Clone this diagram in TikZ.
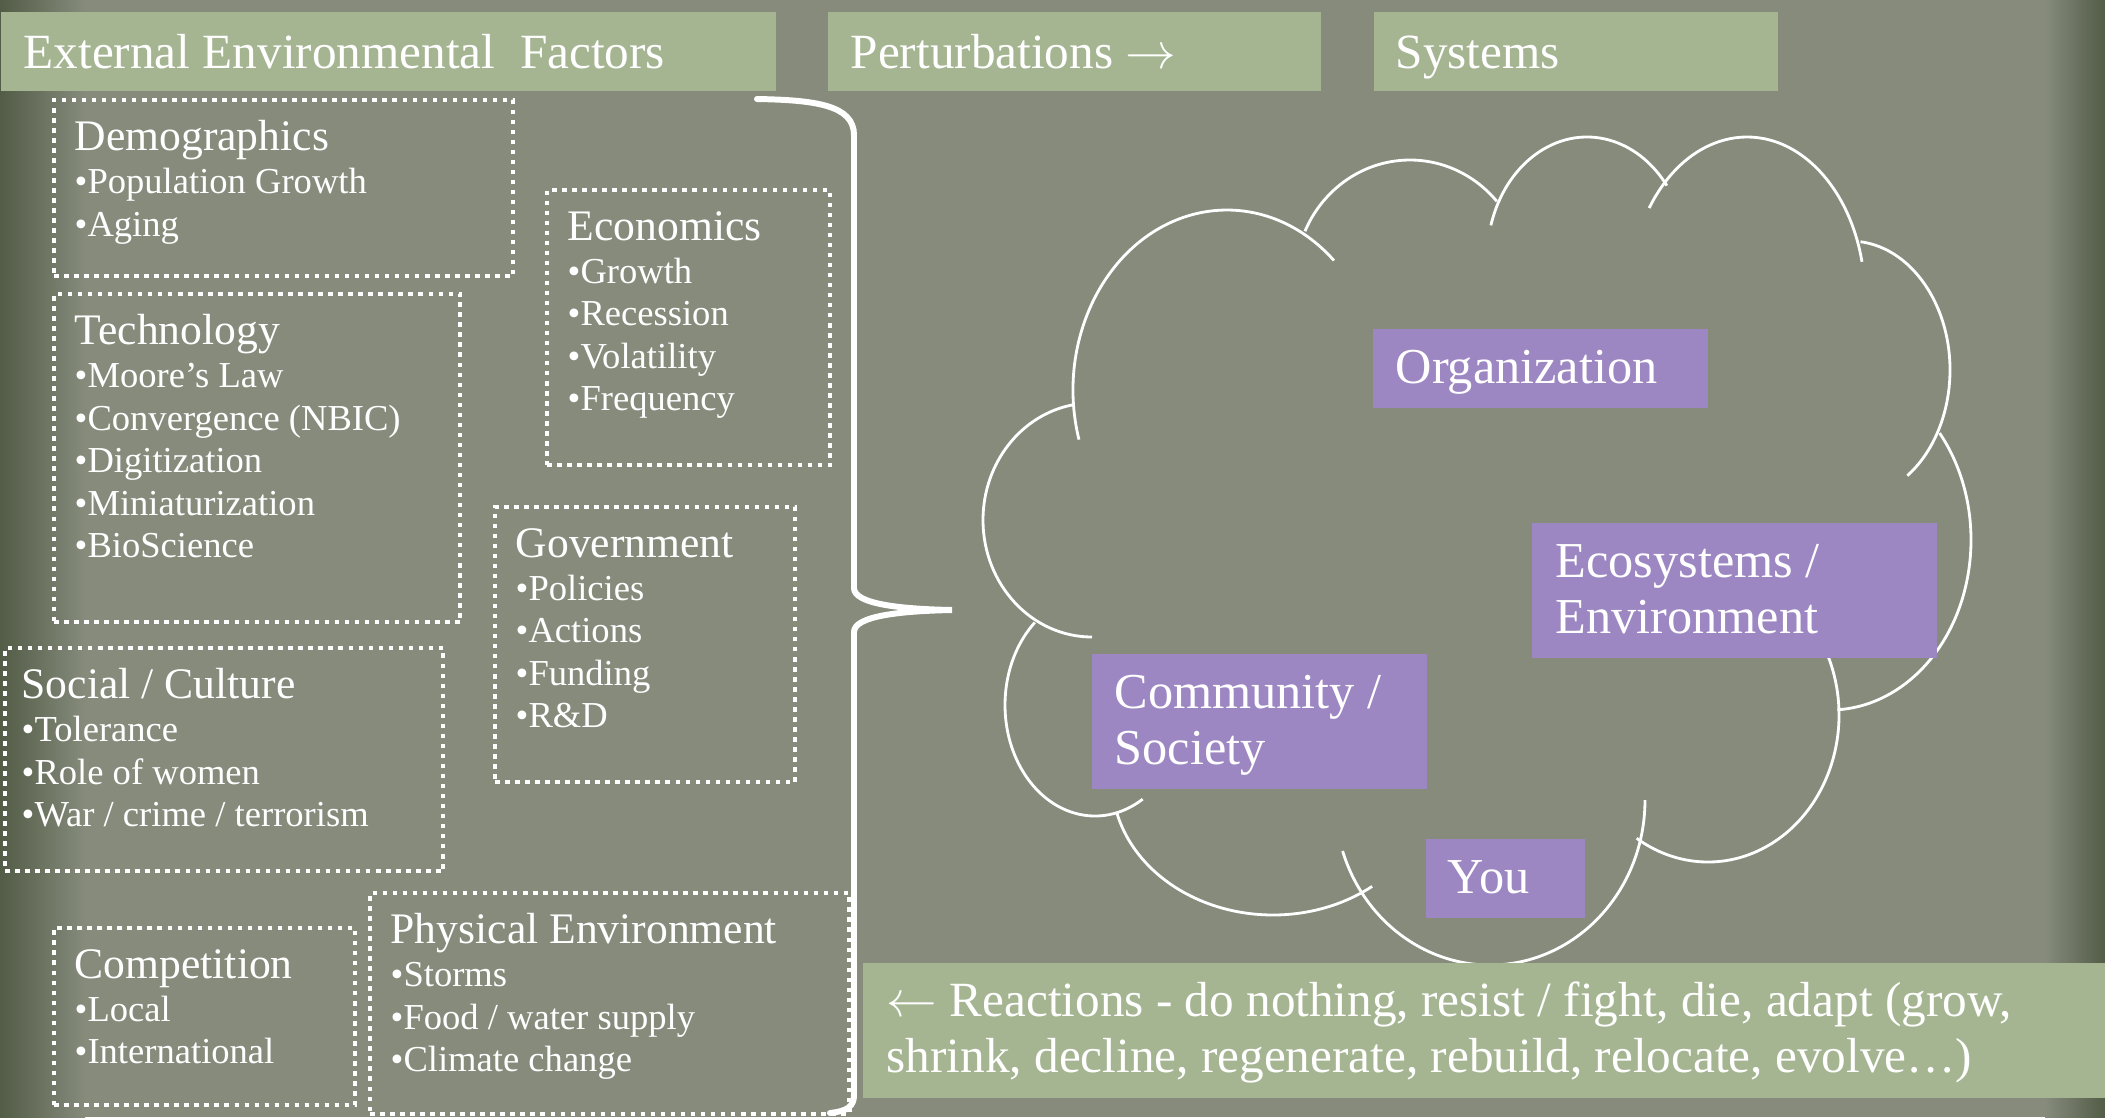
\documentclass[tikz,border=0pt]{standalone}
\usepackage{fontspec}
\setmainfont{Liberation Serif}
\usepackage{xcolor}
\usepackage{tikz}
\usetikzlibrary{positioning}

\definecolor{bgstone}{RGB}{134,139,124}
\definecolor{edgeolive}{RGB}{82,92,70}
\definecolor{headgreen}{RGB}{165,181,146}
\definecolor{sysviolet}{RGB}{157,135,194}

\begin{document}
\begin{tikzpicture}[x=0.01cm, y=-0.01cm]
    \newcommand{\lobe}[6]{\draw[cloudline] (#1,#2) ++(#5:#3 and #4) arc[start angle=#5, end angle=#6, x radius=#3, y radius=#4];}
    \newcommand{\titlesize}{\fontsize{12.4}{12.1}\selectfont}
    \tikzstyle{header}=[
      rectangle,
      fill=headgreen,
      anchor=north west,
      inner sep=0pt,
      minimum height=0.79cm,
    ]
    \tikzstyle{headtext}=[
      text=white,
      anchor=base west,
      inner sep=0pt,
      font=\fontsize{14}{16}\selectfont,
    ]
    \tikzstyle{factor}=[
      rectangle,
      draw=white,
      line width=1.2pt,
      dash pattern=on 1.3pt off 1.55pt,
      anchor=north west,
      inner sep=0pt,
    ]
    \tikzstyle{factortext}=[
      text=white,
      align=left,
      anchor=north west,
      inner sep=0pt,
      font=\fontsize{10.4}{12.1}\selectfont,
    ]
    \tikzstyle{system}=[
      rectangle,
      fill=sysviolet,
      anchor=north west,
      inner sep=0pt,
    ]
    \tikzstyle{systext}=[
      factortext,
      font=\fontsize{14.3}{15.8}\selectfont,
    ]
    \tikzstyle{cloudline}=[draw=white, line width=0.8pt]
    \tikzstyle{bracket}=[draw=white, line width=1.7pt, line cap=round]

    \useasboundingbox (0,0) rectangle (2105,1117);

    % background
    {
      \fill[bgstone] (0,0) rectangle (2105,1117);
      \shade[left color=edgeolive, right color=bgstone] (0,0) rectangle (85,1117);
      \shade[left color=bgstone, right color=edgeolive] (2045,0) rectangle (2105,1117);
    }

    % systems cloud
    {
      \lobe{1227}{390}{154}{180}{164}{314}
      \lobe{1410}{280}{115}{120}{204}{319}
      \lobe{1587}{259}{100}{122}{196}{323}
      \lobe{1747}{298}{118}{161}{214}{347}
      \lobe{1850}{370}{100}{129}{276}{415}
      \lobe{1830}{540}{141}{170}{321}{447}
      \lobe{1708}{715}{131}{147}{336}{483}
      \lobe{1490}{800}{155}{165}{0}{162}
      \lobe{1273}{780}{161}{135}{52}{166}
      \lobe{1095}{705}{90}{111}{58}{228}
      \lobe{1092}{520}{109}{117}{90}{260}
    }

    % brace
    {
      \draw[bracket] (757,99) .. controls (815,100) and (854,105) .. (854,135)
        -- (854,588) .. controls (854,604) and (900,609) .. (952,610)
        .. controls (900,611) and (854,616) .. (854,632)
        -- (854,1095) .. controls (854,1106) and (848,1111) .. (830,1113);
    }

    % headers
    {
      \node[header, minimum width=7.75cm] (extHead) at (0,11) {};
      \node[header, minimum width=4.93cm] (pertHead) at (827,11) {};
      \node[header, minimum width=4.04cm] (sysHead) at (1373,11) {};

      \node[headtext] (extLabel) at ([xshift=0.23cm, yshift=-0.57cm] extHead.north west) {External Environmental\ \ Factors};
      \node[headtext] (pertLabel) at ([xshift=0.23cm, yshift=-0.57cm] pertHead.north west) {Perturbations $\rightarrow$};
      \node[headtext] (sysLabel) at ([xshift=0.22cm, yshift=-0.57cm] sysHead.north west) {Systems};
    }

    % external factors
    {
      \node[factor, minimum width=4.59cm, minimum height=1.76cm] (demo) at (52,98) {};
      \node[factor, minimum width=2.83cm, minimum height=2.75cm] (econ) at (545,188) {};
      \node[factor, minimum width=4.06cm, minimum height=3.28cm] (tech) at (52,292) {};
      \node[factor, minimum width=3.00cm, minimum height=2.75cm] (gov) at (493,505) {};
      \node[factor, minimum width=4.38cm, minimum height=2.23cm] (social) at (3,646) {};
      \node[factor, minimum width=3.01cm, minimum height=1.77cm] (comp) at (52,926) {};
      \node[factor, minimum width=4.79cm, minimum height=2.21cm] (phys) at (368,891) {};

      \node[factortext] (demoText) at ([xshift=0.22cm, yshift=-0.22cm] demo.north west)
        {\strut{\titlesize Demographics}\\•Population Growth\\•Aging};
      \node[factortext] (econText) at ([xshift=0.22cm, yshift=-0.22cm] econ.north west)
        {\strut{\titlesize Economics}\\•Growth\\•Recession\\•Volatility\\•Frequency};
      \node[factortext] (techText) at ([xshift=0.22cm, yshift=-0.22cm] tech.north west)
        {\strut{\titlesize Technology}\\•Moore’s Law\\•Convergence (NBIC)\\•Digitization\\•Miniaturization\\•BioScience};
      \node[factortext] (govText) at ([xshift=0.22cm, yshift=-0.22cm] gov.north west)
        {\strut{\titlesize Government}\\•Policies\\•Actions\\•Funding\\•R\&D};
      \node[factortext] (socialText) at ([xshift=0.18cm, yshift=-0.22cm] social.north west)
        {\strut{\titlesize Social / Culture}\\•Tolerance\\•Role of women\\•War / crime / terrorism};
      \node[factortext] (compText) at ([xshift=0.22cm, yshift=-0.22cm] comp.north west)
        {\strut{\titlesize Competition}\\•Local\\•International};
      \node[factortext] (physText) at ([xshift=0.22cm, yshift=-0.22cm] phys.north west)
        {\strut{\titlesize Physical Environment}\\•Storms\\•Food / water supply\\•Climate change};
    }

    % systems
    {
      \node[system, minimum width=3.35cm, minimum height=0.79cm] (org) at (1372,328) {};
      \node[system, minimum width=4.05cm, minimum height=1.35cm] (eco) at (1531,522) {};
      \node[system, minimum width=3.35cm, minimum height=1.35cm] (comm) at (1091,653) {};
      \node[system, minimum width=1.59cm, minimum height=0.79cm] (you) at (1425,838) {};

      \node[systext] (orgText) at ([xshift=0.23cm, yshift=-0.16cm] org.north west) {\strut Organization};
      \node[systext] (ecoText) at ([xshift=0.24cm, yshift=-0.16cm] eco.north west) {\strut Ecosystems /\\Environment};
      \node[systext] (commText) at ([xshift=0.23cm, yshift=-0.16cm] comm.north west) {\strut Community /\\Society};
      \node[systext] (youText) at ([xshift=0.22cm, yshift=-0.16cm] you.north west) {\strut You};
    }

    % reactions
    {
      \node[header, minimum width=12.43cm, minimum height=1.35cm] (react) at (862,962) {};
      \node[systext, font=\fontsize{14}{15.8}\selectfont] (reactText) at ([xshift=0.24cm, yshift=-0.15cm] react.north west)
        {\strut $\leftarrow$ Reactions - do nothing, resist / fight, die, adapt (grow,\\shrink, decline, regenerate, rebuild, relocate, evolve…)};
    }
\end{tikzpicture}
\end{document}
